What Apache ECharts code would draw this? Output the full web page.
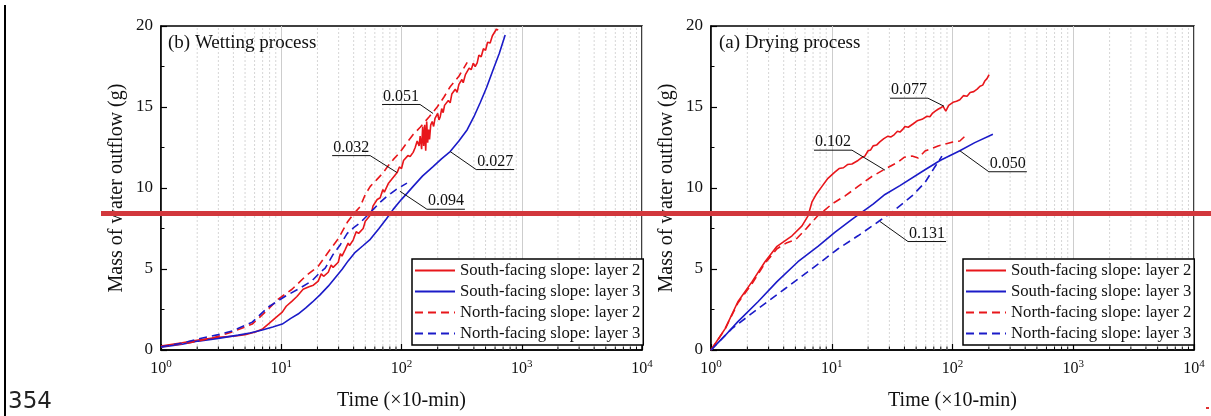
<!DOCTYPE html>
<html>
<head>
<meta charset="utf-8">
<script src="https://cdn.jsdelivr.net/npm/echarts@6/dist/echarts.min.js"></script>
<style>
html, body { margin: 0; padding: 0; background: #fff; }
#chart { width: 1211px; height: 416px; }
</style>
</head>
<body>
<div id="chart"></div>
<script>
// ---- Data: [time (x10 min), mass of water outflow (g)] ----
const seriesNames = [
  'South-facing slope: layer 2',
  'South-facing slope: layer 3',
  'North-facing slope: layer 2',
  'North-facing slope: layer 3'
];

// (b) Wetting process
const wetSouthL2 = [[1,0.25],[1.5,0.45],[2.04,0.62],[3,0.78],[4.15,0.86],[5,0.95],[6.08,1.11],[7,1.3],[7.8,1.6],[9,2.0],[10.2,2.34],[11,2.7],[12.3,3.02],[13.5,3.3],[15.2,3.75],[17,3.9],[18.5,4.0],[20.3,4.25],[21.5,4.7],[22.5,4.55],[24.6,4.8],[26,5.25],[27,5.1],[29.8,5.42],[31,5.95],[32,5.8],[34,6.2],[36,6.6],[37,6.45],[39.7,6.8],[42,7.3],[44,7.2],[48,7.5],[50,7.95],[51.9,7.88],[56,8.4],[58,8.9],[60,8.85],[62.8,9.29],[66.5,9.4],[70,9.9],[72,9.75],[78,10.3],[82,10.5],[85,10.45],[92,10.95],[96,11.3],[100,11.2],[104,11.7],[108,11.6],[113,12.0],[118,11.94],[125,12.2],[130,12.5],[135,12.9],[140,12.6],[143,13.2],[147,12.4],[150,13.8],[153,12.6],[156,13.9],[159,12.3],[162,14.1],[165,12.8],[168,13.6],[171,13.0],[175,13.9],[180,14.1],[185,13.8],[190,14.3],[200,14.6],[205,14.2],[210,14.4],[216,14.9],[222,14.65],[228,15.1],[235,15.0],[245,15.4],[254,15.26],[262,15.8],[270,15.7],[280,16.1],[290,15.9],[300,16.4],[310,16.3],[318,16.7],[326,16.5],[340,17.0],[350,16.9],[365,17.4],[380,17.3],[395,17.7],[410,17.5],[426,17.72],[440,18.2],[460,18.1],[480,18.6],[500,18.5],[520,19.0],[546,18.95],[570,19.4],[590,19.3],[615,19.8],[637,19.75]];
const wetSouthL3 = [[1,0.18],[1.5,0.35],[2.04,0.55],[3,0.72],[4.39,0.92],[5.5,1.05],[6.95,1.23],[8.5,1.42],[10.2,1.6],[12,1.95],[13.8,2.22],[16,2.6],[18.1,2.95],[21,3.4],[24.6,3.94],[28,4.45],[32.1,4.98],[36,5.5],[41.2,6.03],[48,6.45],[55,6.83],[65,7.5],[75,8.1],[85.3,8.68],[100,9.3],[112,9.7],[125,10.1],[150,10.75],[183,11.32],[215,11.8],[254,12.25],[300,12.9],[352,13.6],[400,14.4],[451,15.26],[510,16.2],[578,17.3],[650,18.3],[728,19.45]];
const wetNorthL2 = [[1,0.2],[1.6,0.4],[2.67,0.74],[3.91,1.11],[5.74,1.6],[7.36,2.34],[9.44,3.14],[12.3,3.75],[15.9,4.55],[20.3,5.17],[25.5,6.2],[30,6.9],[35.4,7.88],[40,8.4],[45.4,8.86],[50,9.6],[55,10.1],[62,10.5],[70.5,10.95],[78,11.4],[85.3,11.75],[97,12.2],[111,12.8],[125,13.3],[143,13.75],[170,14.4],[198,15],[225,15.6],[254,16.25],[300,16.9],[352,17.75]];
const wetNorthL3 = [[1,0.2],[1.5,0.42],[2.04,0.68],[3,0.95],[3.91,1.17],[5.74,1.72],[7.8,2.65],[10.8,3.32],[13.8,3.75],[18,4.27],[21.1,4.8],[23.2,5.05],[27,5.9],[31,6.5],[35.4,7.2],[40,7.55],[45.4,7.86],[52,8.3],[58.2,8.68],[66,9.1],[76,9.5],[92,9.95],[111,10.3]];

// (a) Drying process
const drySouthL2 = [[1,0],[1.31,1.32],[1.67,2.98],[2.19,4.22],[2.8,5.45],[3.52,6.4],[4.69,7.05],[5.67,7.66],[6.36,8.28],[6.86,9.14],[7.5,9.65],[8.3,10.1],[9.3,10.6],[10.6,10.98],[11.5,11.2],[12.5,11.25],[13.5,11.45],[14.7,11.48],[16.5,11.7],[17.5,11.85],[18.8,11.97],[19.5,12.0],[20,12.3],[21,12.35],[22,12.6],[23.5,12.65],[25,12.85],[27,13.05],[29.2,13.2],[31,13.15],[33,13.3],[35,13.5],[36.7,13.45],[38.5,13.6],[40.4,13.8],[43,13.75],[47,13.95],[51,14.15],[55.9,14.24],[58,14.2],[61.5,14.43],[65,14.4],[68,14.6],[72,14.75],[75.9,14.86],[80,14.95],[83.4,15.05],[86,15.0],[88,14.75],[90,14.7],[93,15.1],[96,15.2],[101,15.29],[108,15.35],[115,15.45],[123,15.7],[132,15.66],[140,15.9],[150,15.95],[160,16.1],[169,16.28],[178,16.35],[185,16.6],[193,16.75],[201,17.0]];
const drySouthL3 = [[1,0],[1.31,0.9],[1.67,1.75],[2.45,2.98],[3.52,4.22],[5.25,5.45],[7.69,6.4],[10.6,7.26],[14.7,8.06],[22,9.0],[27.6,9.6],[36.7,10.15],[57,11.05],[78.8,11.7],[115,12.3],[153,12.8],[216,13.32]];
const dryNorthL2 = [[1,0],[1.31,1.3],[1.67,2.9],[2.19,4.1],[2.8,5.35],[3.52,6.25],[4.2,6.6],[5.0,6.8],[6.0,7.4],[6.86,7.9],[7.69,8.3],[8.5,8.55],[10.05,9.02],[12.9,9.51],[16.5,10.1],[21.5,10.71],[27.6,11.17],[35.4,11.6],[40,11.9],[46.2,11.97],[52,11.85],[59.2,12.28],[75.9,12.59],[99,12.83],[115,12.9],[127,13.2]];
const dryNorthL3 = [[1,0],[1.2,0.6],[1.49,1.32],[2.45,2.55],[4.1,3.78],[6.86,5.02],[11.3,6.25],[16.5,7.05],[24.1,7.9],[31.6,8.52],[46.2,9.51],[59.2,10.34],[70,11.2],[81.8,11.97]];

// Slope labels and the curve points they point at
const wetSlopeLabels = ['0.032', '0.051', '0.027', '0.094'];
const wetSlopeAnchors = [[92,10.95],[183,14.6],[254,12.25],[97,9.8]];
const drySlopeLabels = ['0.077', '0.102', '0.050', '0.131'];
const drySlopeAnchors = [[85,15.05],[27.6,11.1],[115,12.3],[25.1,7.93]];

// Axis ticks
const xDecades = [1, 10, 100, 1000];
const xMinorMultipliers = [2, 3, 4, 5, 6, 7, 8, 9];
const yTicks = [0, 5, 10, 15, 20];

// ---- Layout / style ----
const SERIF = '"Liberation Serif", "Times New Roman", serif';
const RED = '#e8161b';
const BLUE = '#1b1bc8';
const seriesColors = [RED, BLUE, RED, BLUE];
const seriesDash = ['solid', 'solid', [8, 5], [8, 5]];
// leader-line offset from anchor (px) and underline direction
const wetLeaderOffsets = [[-27,-17,-1],[-13,-9,-1],[26,18,1],[27,18,1]];
const dryLeaderOffsets = [[-16,-8,-1],[-33,-20,-1],[29,21,1],[28,20,1]];
const underlineLength = 38;

const minorTickValues = [];
xDecades.forEach(d => xMinorMultipliers.forEach(m => minorTickValues.push([m * d, 0])));

const grids = [
  { left: 161, top: 26, width: 481, height: 325 },
  { left: 711, top: 26, width: 483, height: 325 }
];

function xAxisFor(i) {
  return {
    type: 'log', gridIndex: i, logBase: 10, min: 1, max: 10000, splitNumber: 4,
    name: 'Time (\u00d710-min)', nameLocation: 'middle', nameGap: 41,
    nameTextStyle: { fontFamily: SERIF, fontSize: 20, color: '#111' },
    axisLine: { lineStyle: { color: '#000', width: 1.5 } },
    axisTick: { inside: true, length: 6, lineStyle: { color: '#000', width: 1.2 } },
    splitLine: { show: true, lineStyle: { color: '#cdcdcd', width: 1 } },
    axisLabel: {
      margin: 9, color: '#111',
      formatter: v => '{b|10}{s|' + Math.round(Math.log10(v)) + '}',
      rich: {
        b: { fontFamily: SERIF, fontSize: 16, color: '#111' },
        s: { fontFamily: SERIF, fontSize: 11, color: '#111', padding: [0, 0, 8, 0] }
      }
    }
  };
}
function yAxisFor(i) {
  return {
    type: 'value', gridIndex: i, min: yTicks[0], max: yTicks[yTicks.length - 1], interval: 5,
    name: 'Mass of water outflow (g)', nameLocation: 'middle', nameGap: 34,
    nameTextStyle: { fontFamily: SERIF, fontSize: 20, color: '#111' },
    axisLine: { show: true, lineStyle: { color: '#000', width: 1.5 } },
    axisTick: { show: true, inside: true, length: 6, lineStyle: { color: '#000', width: 1.2 } },
    minorTick: { show: true, splitNumber: 2, length: 3.5, lineStyle: { color: '#000', width: 1 } },
    splitLine: { show: false },
    axisLabel: { margin: 8, fontFamily: SERIF, fontSize: 17, color: '#111' }
  };
}

function curve(name, idx, gridIdx, data) {
  return {
    type: 'line', name: name, xAxisIndex: gridIdx, yAxisIndex: gridIdx, data: data,
    symbol: 'none', showSymbol: false, smooth: false, z: 3,
    color: seriesColors[idx],
    lineStyle: { color: seriesColors[idx], width: 1.6, type: seriesDash[idx] },
    emphasis: { disabled: true }
  };
}

function minorGridItem(params, api) {
  const v = api.value(0);
  const b = api.coord([v, 0]);
  const t = api.coord([v, 20]);
  return {
    type: 'group', children: [
      { type: 'line', shape: { x1: b[0], y1: b[1], x2: t[0], y2: t[1] },
        style: { stroke: '#d6d6d6', lineWidth: 1, lineDash: [2, 2] } },
      { type: 'line', shape: { x1: b[0], y1: b[1], x2: b[0], y2: b[1] - 3.5 },
        style: { stroke: '#000', lineWidth: 1 } }
    ]
  };
}

function slopeLabelItem(labels, offsets) {
  return function (params, api) {
    const i = params.dataIndex;
    const a = api.coord([api.value(0), api.value(1)]);
    const o = offsets[i];
    const ex = a[0] + o[0], ey = a[1] + o[1];
    const ux = ex + o[2] * underlineLength;
    return {
      type: 'group', children: [
        { type: 'polyline', shape: { points: [a, [ex, ey], [ux, ey]] },
          style: { stroke: '#111', lineWidth: 1, fill: null } },
        { type: 'text', x: (ex + ux) / 2, y: ey - 8,
          style: { text: labels[i], fill: '#111', font: '16px ' + SERIF, align: 'center', verticalAlign: 'middle' } }
      ]
    };
  };
}

const series = [];
[wetSouthL2, wetSouthL3, wetNorthL2, wetNorthL3].forEach((d, k) => series.push(curve(seriesNames[k], k, 0, d)));
[drySouthL2, drySouthL3, dryNorthL2, dryNorthL3].forEach((d, k) => series.push(curve(seriesNames[k], k, 1, d)));
[0, 1].forEach(g => series.push({
  type: 'custom', xAxisIndex: g, yAxisIndex: g, data: minorTickValues, z: 1, silent: true,
  renderItem: minorGridItem, encode: { x: 0, y: 1 }
}));
series.push({ type: 'custom', xAxisIndex: 0, yAxisIndex: 0, data: wetSlopeAnchors, z: 5, silent: true,
  renderItem: slopeLabelItem(wetSlopeLabels, wetLeaderOffsets), encode: { x: 0, y: 1 } });
series.push({ type: 'custom', xAxisIndex: 1, yAxisIndex: 1, data: drySlopeAnchors, z: 5, silent: true,
  renderItem: slopeLabelItem(drySlopeLabels, dryLeaderOffsets), encode: { x: 0, y: 1 } });

function legendAt(left) {
  return {
    data: seriesNames, orient: 'vertical', left: left, top: 259,
    itemWidth: 40, itemHeight: 14, itemGap: 4, itemTextGap: 2,
    padding: [3, 3, 3, 2], backgroundColor: '#fff',
    borderColor: '#000', borderWidth: 1.5, borderRadius: 0,
    selectedMode: false, z: 10,
    itemStyle: { opacity: 0 },
    textStyle: { fontFamily: SERIF, fontSize: 16.7, color: '#111' }
  };
}

const chart = echarts.init(document.getElementById('chart'), null, { renderer: 'canvas' });
chart.setOption({
  animation: false,
  backgroundColor: '#fff',
  grid: grids.map(g => Object.assign({ show: true, borderColor: '#000', borderWidth: 1.5, backgroundColor: 'transparent' }, g)),
  xAxis: [xAxisFor(0), xAxisFor(1)],
  yAxis: [yAxisFor(0), yAxisFor(1)],
  legend: [legendAt(412), legendAt(963)],
  series: series,
  graphic: [
    { type: 'text', x: 168, y: 43, z: 20,
      style: { text: '(b) Wetting process', font: '19px ' + SERIF, fill: '#111', verticalAlign: 'middle' } },
    { type: 'text', x: 719, y: 43, z: 20,
      style: { text: '(a) Drying process', font: '19px ' + SERIF, fill: '#111', verticalAlign: 'middle' } },
    { type: 'rect', shape: { x: 4, y: 5, width: 2, height: 411 }, style: { fill: '#000' }, z: 20 },
    { type: 'text', x: 8, y: 414, z: 20,
      style: { text: '354', font: '23px "DejaVu Sans", sans-serif', fill: '#222', verticalAlign: 'bottom' } },
    { type: 'rect', shape: { x: 101, y: 211, width: 1110, height: 5 }, style: { fill: '#d2373c' }, z: 100 },
    { type: 'rect', shape: { x: 1206, y: 407, width: 3, height: 2 }, style: { fill: '#e03030' }, z: 100 }
  ]
});
</script>
</body>
</html>
